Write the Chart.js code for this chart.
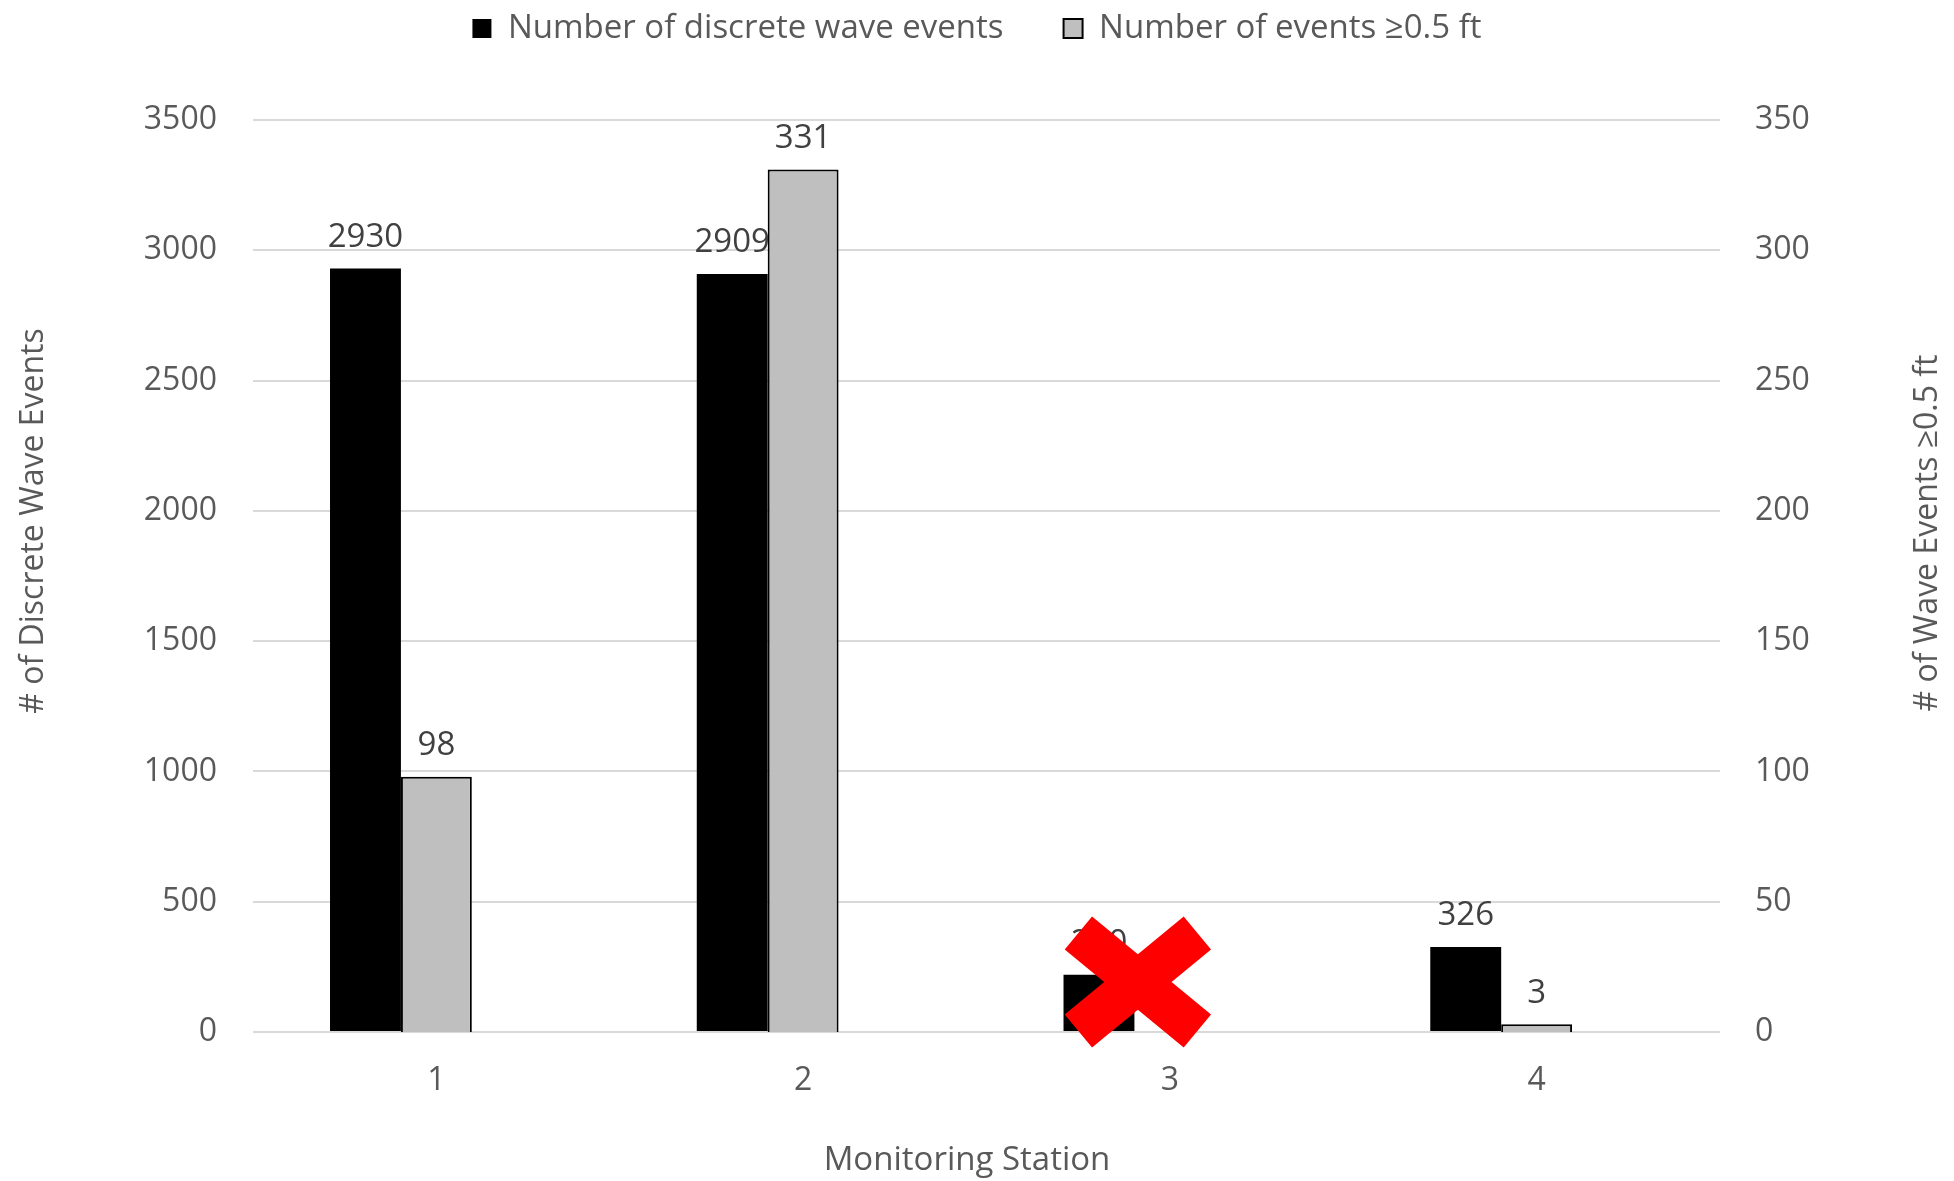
<!DOCTYPE html>
<html>
<head>
<meta charset="utf-8">
<script src="https://cdn.jsdelivr.net/npm/chart.js@4.4.1/dist/chart.umd.min.js"></script>
<style>
  html, body { margin: 0; padding: 0; background: #ffffff; }
  #wrap { width: 1954px; height: 1181px; position: relative; }
</style>
</head>
<body>
<div id="wrap"><canvas id="c"></canvas></div>
<script>
// Wave events recorded per monitoring station
const stations = ['1', '2', '3', '4'];
const discreteEvents = [2930, 2909, 220, 326];
const eventsOverHalfFoot = [98, 331, 0, 3];
// empty third slot keeps each station's bar group at its original spacing
const spacerSeries = [null, null, null, null];

const seriesNames = ['Number of discrete wave events', 'Number of events \u22650.5 ft'];
const leftAxisTitle = '# of Discrete Wave Events';
const rightAxisTitle = '# of Wave Events \u22650.5 ft';
const xAxisTitle = 'Monitoring Station';
const leftAxisRange = [0, 3500, 500];
const rightAxisRange = [0, 350, 50];
const crossedStation = '3';

const FONT = "'Open Sans', 'DejaVu Sans', sans-serif";
const TICK_COLOR = '#595959';

// value labels above every bar
const valueLabels = {
  id: 'valueLabels',
  afterDatasetsDraw(chart) {
    const ctx = chart.ctx;
    ctx.save();
    ctx.font = `33px ${FONT}`;
    ctx.fillStyle = '#404040';
    ctx.textAlign = 'center';
    ctx.textBaseline = 'middle';
    [0, 1].forEach(di => {
      const meta = chart.getDatasetMeta(di);
      const data = chart.data.datasets[di].data;
      meta.data.forEach((bar, i) => {
        if (data[i] === null) return;
        ctx.fillText(String(data[i]), bar.x, bar.y - 31);
      });
    });
    ctx.restore();
  }
};

// red cross over the station taken out of service
const stationCross = {
  id: 'stationCross',
  afterDraw(chart) {
    const x = chart.scales.x.getPixelForValue(stations.indexOf(crossedStation)) - 32;
    const y = chart.scales.y.getPixelForValue(0) - 50;
    const ctx = chart.ctx;
    ctx.save();
    ctx.strokeStyle = '#ff0000';
    ctx.lineWidth = 43;
    ctx.lineCap = 'butt';
    ctx.beginPath();
    ctx.moveTo(x - 59.5, y - 49);
    ctx.lineTo(x + 59.5, y + 49);
    ctx.moveTo(x + 59.5, y - 49);
    ctx.lineTo(x - 59.5, y + 49);
    ctx.stroke();
    ctx.restore();
  }
};

// axis titles: both vertical ones read bottom-to-top
const axisTitles = {
  id: 'axisTitles',
  afterDraw(chart) {
    const ctx = chart.ctx;
    ctx.save();
    ctx.fillStyle = TICK_COLOR;
    ctx.textAlign = 'center';
    ctx.textBaseline = 'middle';
    const drawUp = (text, x, y) => {
      ctx.save();
      ctx.translate(x, y);
      ctx.rotate(-Math.PI / 2);
      ctx.fillText(text, 0, 0);
      ctx.restore();
    };
    ctx.font = `32px ${FONT}`;
    drawUp(leftAxisTitle, 34, 521);
    drawUp(rightAxisTitle, chart.width - 26, 533);
    ctx.font = `33px ${FONT}`;
    ctx.fillText(xAxisTitle, 967, 1161);
    ctx.restore();
  }
};

// fixed legend band height so the plot starts where it should
const legendBand = {
  id: 'legendBand',
  afterInit(chart) {
    const lg = chart.legend;
    const fit = lg.fit;
    lg.fit = function () {
      fit.call(this);
      this.height = 168;
    };
  }
};

const plainNumber = value => String(value);

new Chart(document.getElementById('c'), {
  type: 'bar',
  data: {
    labels: stations,
    datasets: [
      {
        label: seriesNames[0],
        data: discreteEvents,
        backgroundColor: '#000000',
        borderColor: '#000000',
        borderWidth: 0,
        yAxisID: 'y'
      },
      {
        label: seriesNames[1],
        data: eventsOverHalfFoot,
        backgroundColor: '#bfbfbf',
        borderColor: '#000000',
        borderWidth: 2,
        yAxisID: 'y1'
      },
      {
        label: '',
        data: spacerSeries,
        backgroundColor: 'rgba(0,0,0,0)',
        yAxisID: 'y'
      }
    ]
  },
  options: {
    responsive: true,
    maintainAspectRatio: false,
    animation: false,
    devicePixelRatio: 1,
    categoryPercentage: 0.58,
    barPercentage: 1.0,
    layout: { padding: { top: -48, left: 0, right: 0, bottom: 0 } },
    plugins: {
      tooltip: { enabled: false },
      legend: {
        position: 'top',
        labels: {
          filter: item => item.datasetIndex < 2,
          boxWidth: 19,
          boxHeight: 19,
          padding: 60,
          color: TICK_COLOR,
          font: { family: FONT, size: 33 }
        }
      }
    },
    scales: {
      x: {
        grid: { display: false, drawTicks: false },
        border: { display: false },
        ticks: { color: TICK_COLOR, font: { family: FONT, size: 32 }, padding: 30 },
        afterFit(scale) { scale.height = 149; }
      },
      y: {
        position: 'left',
        min: leftAxisRange[0],
        max: leftAxisRange[1],
        ticks: {
          stepSize: leftAxisRange[2],
          callback: plainNumber,
          color: TICK_COLOR,
          font: { family: FONT, size: 32 },
          padding: 36
        },
        grid: { color: '#d9d9d9', lineWidth: 2, drawTicks: false },
        border: { display: false },
        afterFit(scale) { scale.width = 253; }
      },
      y1: {
        position: 'right',
        min: rightAxisRange[0],
        max: rightAxisRange[1],
        ticks: {
          stepSize: rightAxisRange[2],
          callback: plainNumber,
          color: TICK_COLOR,
          font: { family: FONT, size: 32 },
          padding: 35
        },
        grid: { display: false, drawTicks: false },
        border: { display: false },
        afterFit(scale) { scale.width = 234; }
      }
    }
  },
  plugins: [legendBand, valueLabels, stationCross, axisTitles]
});
</script>
</body>
</html>
